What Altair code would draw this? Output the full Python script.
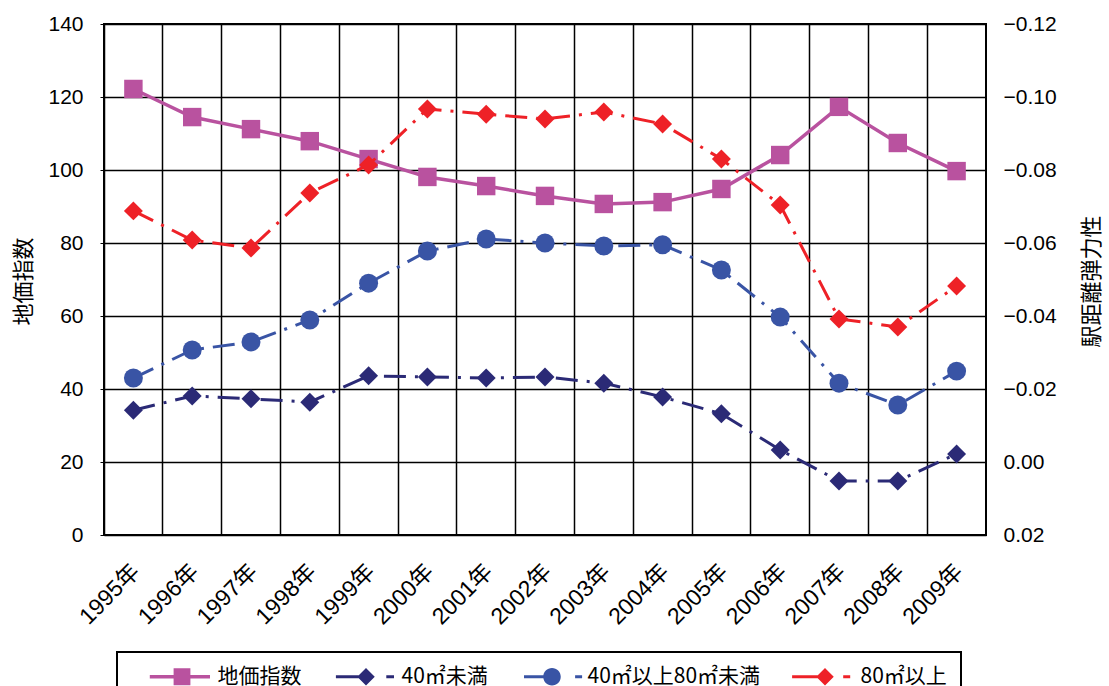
import altair as alt
import pandas as pd

years = ['1995年', '1996年', '1997年', '1998年', '1999年', '2000年', '2001年', '2002年',
         '2003年', '2004年', '2005年', '2006年', '2007年', '2008年', '2009年']
land_index = [122.2, 114.5, 111.2, 107.9, 103.0, 98.1, 95.6, 92.9, 90.7, 91.2, 94.8, 104.1, 117.3, 107.4, 99.7]
under40 = [-0.0142, -0.0181, -0.0173, -0.0164, -0.0236, -0.0233, -0.0230, -0.0233, -0.0216, -0.0178,
           -0.0132, -0.0033, 0.0052, 0.0052, -0.0022]
mid40_80 = [-0.0230, -0.0307, -0.0329, -0.0389, -0.0490, -0.0578, -0.0611, -0.0600, -0.0592, -0.0595,
            -0.0526, -0.0397, -0.0216, -0.0156, -0.0249]
over80 = [-0.0688, -0.0608, -0.0586, -0.0737, -0.0814, -0.0967, -0.0953, -0.0940, -0.0959, -0.0926,
          -0.0830, -0.0704, -0.0392, -0.0370, -0.0482]

series_names = ['地価指数', '40㎡未満', '40㎡以上80㎡未満', '80㎡以上']
series_colors = ['#B9529F', '#2B2A76', '#3954A5', '#EE2127']
right_names = series_names[1:]
right_colors = series_colors[1:]
right_shapes = ['diamond', 'circle', 'diamond']
# legend glyphs: a line with the marker in the middle (filled outlines)
legend_paths = [
    'M-4.6,-0.25H4V0.25H-4.6ZM-1.2,-1.2H1.2V1.2H-1.2Z',
    'M-4.3,-0.22H0.6V0.22H-4.3ZM2.9,-0.22H4V0.22H2.9ZM0,-1.25L1.25,0L0,1.25L-1.25,0Z',
    'M-4.0,-0.22H0.6V0.22H-4.0ZM3.3,-0.22H4.3V0.22H3.3ZM-1.25,0A1.25,1.25,0,1,1,1.25,0A1.25,1.25,0,1,1,-1.25,0Z',
    'M-4.7,-0.22H0.6V0.22H-4.7ZM2.6,-0.22H3.6V0.22H2.6ZM0,-1.25L1.25,0L0,1.25L-1.25,0Z',
]

df_left = pd.DataFrame({'year': years, 'value': land_index})
rows = []
for name, vals in zip(right_names, [under40, mid40_80, over80]):
    for y, v in zip(years, vals):
        rows.append({'year': y, 'series': name, 'value': v})
df_right = pd.DataFrame(rows)
df_legend = pd.DataFrame({'series': series_names})

FONT = 'Liberation Sans, Noto Sans CJK JP'
CJK = 'Noto Sans CJK JP'

x_enc = alt.X(
    'year:O', sort=years, title=None,
    scale=alt.Scale(type='band', paddingInner=0, paddingOuter=0),
    bandPosition=0.5,
    axis=alt.Axis(bandPosition=0, grid=True, gridColor='#000000', gridWidth=1.5,
                  tickSize=0, domain=False, labelAngle=-45, labelOffset=-5,
                  labelFontSize=23, labelFont=FONT, labelColor='#000000', labelPadding=25),
)

left_y = alt.Y('value:Q', scale=alt.Scale(domain=[0, 140]),
               axis=alt.Axis(values=[0, 20, 40, 60, 80, 100, 120, 140], grid=True,
                             gridColor='#000000', gridWidth=1.5, tickSize=4, tickColor='#000000',
                             domain=False, labelFontSize=21, labelFont=FONT, labelColor='#000000',
                             labelPadding=17, title='地価指数', titleFont=CJK, titleFontSize=22,
                             titleFontWeight='normal', titleColor='#000000', titleAngle=-90,
                             titleX=-81, titleY=257, titleAlign='center', titleBaseline='middle'))

left_line = alt.Chart(df_left).mark_line(color=series_colors[0], strokeWidth=3.5).encode(x=x_enc, y=left_y)
left_pts = alt.Chart(df_left).mark_point(filled=True, shape='square', size=340, opacity=1,
                                         color=series_colors[0]).encode(x=x_enc, y=left_y)
left = alt.layer(left_line, left_pts)

right_y = alt.Y('value:Q', scale=alt.Scale(domain=[-0.12, 0.02], reverse=True),
                axis=alt.Axis(orient='right', values=[-0.12, -0.10, -0.08, -0.06, -0.04, -0.02, 0.0, 0.02],
                              format='.2f', grid=False, tickSize=0, domain=False, labelFontSize=21,
                              labelFont=FONT, labelColor='#000000', labelPadding=17,
                              title='駅距離弾力性', titleFont=CJK, titleFontSize=22,
                              titleFontWeight='normal', titleColor='#000000', titleAngle=270,
                              titleX=105, titleY=257, titleAlign='center', titleBaseline='middle'))
right_color = alt.Color('series:N', scale=alt.Scale(domain=right_names, range=right_colors), legend=None)

right_line = alt.Chart(df_right).mark_line(strokeWidth=3, strokeDash=[22, 9, 3, 9]).encode(
    x=x_enc, y=right_y, color=right_color, detail='series:N')
right_pts = alt.Chart(df_right).mark_point(filled=True, opacity=1, size=360).encode(
    x=x_enc, y=right_y, color=right_color,
    shape=alt.Shape('series:N', scale=alt.Scale(domain=right_names, range=right_shapes), legend=None))
right = alt.layer(right_line, right_pts)

leg = alt.Legend(orient='none', legendX=13, legendY=628, direction='horizontal', columns=4,
                 padding=14, strokeColor='#000000', symbolSize=196, symbolStrokeWidth=0,
                 symbolOffset=40.5, labelOffset=25, labelFontSize=21, labelFont=CJK,
                 labelColor='#000000', labelLimit=400, columnPadding=13, symbolOpacity=1)
legend_layer = alt.Chart(df_legend).mark_point(filled=True).encode(
    color=alt.Color('series:N', title=None, scale=alt.Scale(domain=series_names, range=series_colors), legend=leg),
    shape=alt.Shape('series:N', title=None, scale=alt.Scale(domain=series_names, range=legend_paths), legend=leg),
).transform_filter('false')

chart = alt.layer(left, right, legend_layer).resolve_scale(
    y='independent', shape='independent', color='independent'
).properties(
    width=882, height=511,
    autosize=alt.AutoSizeParams(type='none'),
    padding={'left': 104, 'top': 24, 'right': 123, 'bottom': 151},
    background='#ffffff',
).configure_view(stroke='#000000', strokeWidth=2).configure_legend(strokeWidth=2)

chart.save('out.html', embed_options={'renderer': 'svg', 'actions': False})
